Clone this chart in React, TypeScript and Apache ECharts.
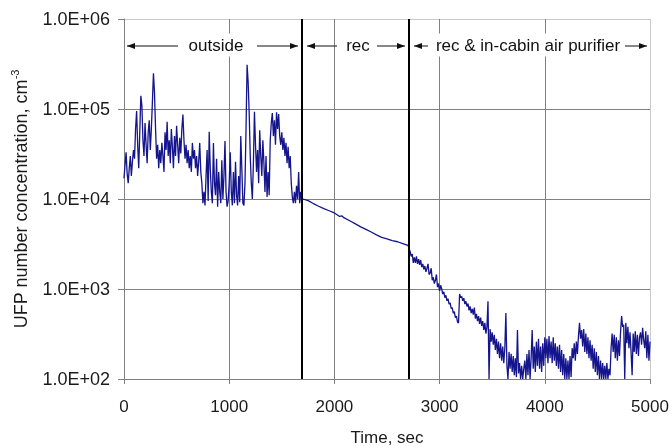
import React, { useEffect, useRef } from 'react';
import * as echarts from 'echarts';

// ---- data ----
const xTickValues = [0, 1000, 2000, 3000, 4000, 5000];
const yTickLabels = ['1.0E+02', '1.0E+03', '1.0E+04', '1.0E+05', '1.0E+06'];
const phaseBoundaries = [1690, 2710];
const phaseLabels = ['outside', 'rec', 'rec & in-cabin air purifier'];
const sampleStep = 10;

// outside air, t = 0 .. 1690 s every 10 s
const outsideStart = 0;
const outsideValues = [
  17000, 24000, 33000, 19000, 15000, 22000, 30000, 18000, 26000, 35000,
  28000, 60000, 95000, 40000, 22000, 55000, 140000, 110000, 45000, 30000,
  70000, 40000, 25000, 55000, 75000, 35000, 60000, 120000, 250000, 150000,
  60000, 28000, 40000, 22000, 35000, 25000, 42000, 30000, 20000, 55000,
  35000, 72000, 30000, 45000, 25000, 60000, 38000, 22000, 50000, 30000,
  65000, 40000, 25000, 48000, 32000, 60000, 87000, 45000, 28000, 40000,
  25000, 35000, 22000, 30000, 20000, 42000, 28000, 35000, 22000, 30000,
  18000, 26000, 42000, 20000, 15000, 9000, 12000, 8500, 18000, 35000,
  9500, 56000, 22000, 12000, 9000, 42000, 15000, 11000, 28000, 8200,
  20000, 12000, 9000, 27000, 10000, 18000, 44000, 12000, 8200, 9500,
  15000, 33000, 12000, 8500, 20000, 9000, 26000, 11000, 8500, 18000,
  9200, 50000, 22000, 9000, 8500, 15000, 60000, 310000, 200000, 90000,
  30000, 15000, 10000, 25000, 93000, 40000, 20000, 35000, 15000, 58000,
  30000, 18000, 45000, 25000, 12000, 30000, 10500, 20000, 11000, 45000,
  70000, 90000, 50000, 75000, 40000, 92000, 60000, 88000, 50000, 40000,
  55000, 35000, 48000, 30000, 42000, 25000, 38000, 22000, 30000, 15000,
  10500, 9000, 12000, 9000, 14000, 10000, 20000, 9000, 12000, 9500,
];

// recirculation
const recTimes = [1700, 1750, 1800, 1850, 1900, 1950, 2000, 2050, 2070, 2090, 2150, 2200, 2250, 2300, 2350, 2400, 2450, 2500, 2550, 2600, 2650, 2700, 2710];
const recValues = [10000, 9600, 8900, 8300, 7800, 7400, 7000, 6400, 6500, 6200, 5700, 5300, 4900, 4600, 4300, 4000, 3750, 3600, 3450, 3350, 3200, 3050, 2800];

// rec & in-cabin air purifier, t = 2720 .. 5000 s every 10 s
const purifierStart = 2720;
const purifierValues = [
  2600, 2300, 2450, 1950, 2250, 1950, 2300, 1900, 2150, 1850,
  2100, 1750, 1900, 1650, 1800, 1550, 1700, 1900, 1450, 1500,
  1700, 1250, 1350, 1150, 1250, 1450, 1050, 1150, 950, 1100,
  1000, 880, 930, 800, 850, 740, 780, 680, 700, 610,
  620, 540, 560, 480, 500, 430, 420, 880, 800, 830,
  740, 790, 680, 730, 640, 690, 580, 640, 540, 600,
  520, 620, 470, 530, 440, 500, 410, 480, 390, 440,
  350, 420, 320, 380, 730, 100, 360, 260, 330, 240,
  310, 210, 280, 190, 260, 170, 250, 160, 230, 150,
  220, 540, 140, 100, 200, 130, 190, 120, 180, 110,
  170, 105, 350, 115, 150, 100, 140, 100, 130, 160,
  100, 190, 110, 210, 100, 170, 350, 130, 230, 120,
  260, 140, 280, 130, 230, 120, 250, 140, 290, 170,
  280, 150, 300, 170, 260, 150, 290, 160, 250, 140,
  230, 130, 240, 120, 210, 110, 190, 100, 170, 100,
  160, 100, 180, 105, 220, 170, 250, 160, 260, 190,
  300, 420, 280, 350, 230, 360, 200, 320, 190, 290,
  170, 270, 160, 240, 130, 220, 120, 200, 110, 180,
  100, 160, 100, 150, 100, 140, 100, 150, 100, 130,
  110, 220, 320, 200, 310, 170, 290, 160, 270, 180,
  330, 500, 380, 400, 100, 420, 250, 380, 220, 330,
  200, 110, 320, 200, 340, 190, 310, 180, 290, 330,
  240, 370, 270, 220, 340, 170, 310, 160, 260,
];

const FONT = '"Liberation Sans", Arial, sans-serif';
const TEXT = '#1a1a1a';
const GRID = '#808080';
const EDGE = '#c8c8c8';

function arrow(x0: number, x1: number, y: number, headLeft: boolean) {
  const hx = headLeft ? x0 : x1;
  const dir = headLeft ? 1 : -1;
  return [
    { type: 'line', shape: { x1: x0, y1: y, x2: x1, y2: y }, style: { stroke: '#111', lineWidth: 1 }, z: 10 },
    { type: 'polygon', shape: { points: [[hx, y], [hx + dir * 8, y - 3], [hx + dir * 8, y + 3]] }, style: { fill: '#111' }, z: 10 },
  ];
}

export default function App() {
  const ref = useRef<HTMLDivElement>(null);
  useEffect(() => {
    const chart = echarts.init(ref.current!, null, { renderer: 'svg' });
    const data: number[][] = [];
    outsideValues.forEach((v, i) => data.push([outsideStart + i * sampleStep, v]));
    recTimes.forEach((t, i) => data.push([t, recValues[i]]));
    purifierValues.forEach((v, i) => data.push([purifierStart + i * sampleStep, v]));

    const ay = 46;
    const labelStyle = { fontSize: 17, fontFamily: FONT, fill: '#111', backgroundColor: '#fff', padding: [3, 2] };
    const graphic: any[] = [
      ...arrow(127, 178, ay, true),
      ...arrow(257, 298, ay, false),
      ...arrow(307, 337, ay, true),
      ...arrow(377, 405, ay, false),
      ...arrow(414, 428, ay, true),
      ...arrow(625, 647, ay, false),
      { type: 'text', x: 216, y: ay - 1, z: 11, style: { ...labelStyle, text: phaseLabels[0], align: 'center', verticalAlign: 'middle' } },
      { type: 'text', x: 358, y: ay - 1, z: 11, style: { ...labelStyle, text: phaseLabels[1], align: 'center', verticalAlign: 'middle' } },
      { type: 'text', x: 528, y: ay - 1, z: 11, style: { ...labelStyle, text: phaseLabels[2], align: 'center', verticalAlign: 'middle' } },
    ];

    chart.setOption({
      animation: false,
      grid: { left: 124, right: 22, top: 19, bottom: 67, show: false, outerBoundsMode: 'none', containLabel: false },
      xAxis: {
        type: 'value', min: xTickValues[0], max: xTickValues[xTickValues.length - 1], interval: 1000,
        axisLine: { show: true, lineStyle: { color: GRID, width: 1 } },
        axisTick: { show: true, length: 5, lineStyle: { color: GRID } },
        axisLabel: { fontSize: 17, color: TEXT, margin: 19, fontFamily: FONT, formatter: (v: number) => String(v) },
        splitLine: { show: true, lineStyle: { color: [GRID, GRID, GRID, GRID, GRID, EDGE], width: 1 } },
        name: 'Time, sec', nameLocation: 'middle', nameGap: 50,
        nameTextStyle: { fontSize: 17, color: TEXT, fontFamily: FONT },
      },
      yAxis: {
        type: 'log', logBase: 10, min: 100, max: 1e6,
        axisLine: { show: true, lineStyle: { color: GRID, width: 1 } },
        axisTick: { show: true, length: 6, lineStyle: { color: GRID } },
        axisLabel: {
          fontSize: 18, color: TEXT, margin: 14, fontFamily: FONT,
          formatter: (v: number) => yTickLabels[Math.round(Math.log10(v)) - 2] ?? '',
        },
        splitLine: { show: true, lineStyle: { color: [GRID, GRID, GRID, GRID, EDGE], width: 1 } },
        minorTick: { show: false },
        name: 'UFP number concentration, cm{sup|-3}', nameLocation: 'middle', nameGap: 82,
        nameTextStyle: {
          fontSize: 18, color: TEXT, fontFamily: FONT, lineHeight: 22,
          rich: { sup: { fontSize: 11, fontFamily: FONT, color: TEXT, verticalAlign: 'top', lineHeight: 22 } },
        },
      },
      series: [{
        type: 'line', data, symbol: 'none', showSymbol: false,
        lineStyle: { color: '#14148c', width: 1.3 },
        markLine: {
          silent: true, symbol: ['none', 'none'], label: { show: false },
          lineStyle: { color: '#000', width: 2, type: 'solid' },
          data: phaseBoundaries.map((b) => ({ xAxis: b })),
        },
      }],
      graphic,
    });
    return () => chart.dispose();
  }, []);
  return <div ref={ref} style={{ position: 'fixed', left: 0, top: 0, width: 672, height: 446 }} />;
}
